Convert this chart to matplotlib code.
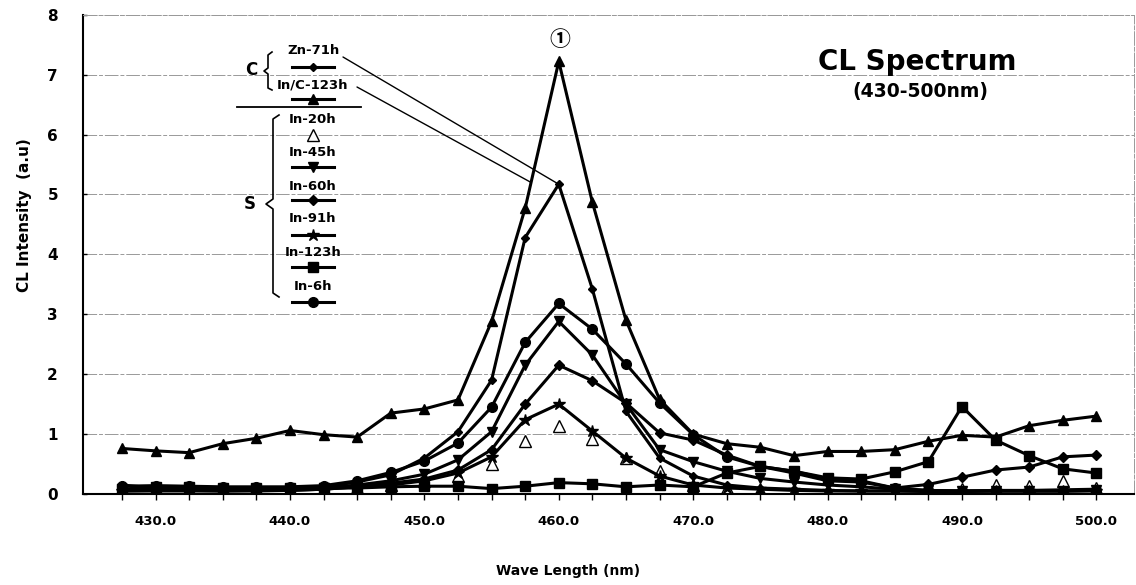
import numpy as np
import matplotlib
matplotlib.use("Agg")
import matplotlib.pyplot as plt

# wavelength (nm), one point every 2.5 nm
wave = [427.5, 430.0, 432.5, 435.0, 437.5, 440.0, 442.5, 445.0, 447.5, 450.0,
        452.5, 455.0, 457.5, 460.0, 462.5, 465.0, 467.5, 470.0, 472.5, 475.0,
        477.5, 480.0, 482.5, 485.0, 487.5, 490.0, 492.5, 495.0, 497.5, 500.0]

# C group
zn_71h = [0.15, 0.10, 0.12, 0.10, 0.10, 0.10, 0.12, 0.20, 0.32, 0.60,
          1.04, 1.90, 4.28, 5.17, 3.42, 1.38, 0.60, 0.30, 0.15, 0.10,
          0.08, 0.06, 0.05, 0.05, 0.05, 0.05, 0.06, 0.06, 0.07, 0.08]
in_c_123h = [0.76, 0.72, 0.69, 0.84, 0.93, 1.06, 0.99, 0.95, 1.35, 1.42,
             1.57, 2.88, 4.77, 7.22, 4.87, 2.90, 1.58, 1.00, 0.84, 0.78,
             0.64, 0.71, 0.71, 0.74, 0.88, 0.98, 0.95, 1.14, 1.23, 1.30]

# S group
in_20h = [0.05, 0.05, 0.05, 0.05, 0.05, 0.05, 0.06, 0.10, 0.15, 0.22,
          0.30, 0.50, 0.89, 1.13, 0.91, 0.60, 0.38, 0.15, 0.10, 0.07,
          0.05, 0.05, 0.05, 0.05, 0.06, 0.08, 0.15, 0.13, 0.22, 0.10]
in_45h = [0.08, 0.08, 0.10, 0.08, 0.08, 0.08, 0.10, 0.15, 0.22, 0.33,
          0.57, 1.04, 2.15, 2.88, 2.32, 1.50, 0.74, 0.54, 0.38, 0.26,
          0.20, 0.15, 0.12, 0.08, 0.06, 0.05, 0.05, 0.05, 0.05, 0.06]
in_60h = [0.05, 0.06, 0.06, 0.05, 0.06, 0.06, 0.08, 0.12, 0.18, 0.25,
          0.40, 0.74, 1.50, 2.15, 1.89, 1.52, 1.02, 0.90, 0.65, 0.46,
          0.38, 0.25, 0.22, 0.10, 0.16, 0.28, 0.40, 0.45, 0.62, 0.65]
in_91h = [0.05, 0.05, 0.05, 0.05, 0.05, 0.06, 0.08, 0.12, 0.15, 0.22,
          0.35, 0.62, 1.24, 1.50, 1.05, 0.60, 0.30, 0.15, 0.10, 0.08,
          0.06, 0.05, 0.05, 0.05, 0.04, 0.04, 0.05, 0.05, 0.05, 0.05]
in_123h = [0.08, 0.12, 0.12, 0.10, 0.10, 0.10, 0.10, 0.10, 0.12, 0.13,
           0.13, 0.09, 0.13, 0.19, 0.17, 0.12, 0.15, 0.12, 0.35, 0.46,
           0.38, 0.27, 0.25, 0.37, 0.54, 1.46, 0.90, 0.64, 0.42, 0.35]
in_6h = [0.13, 0.14, 0.13, 0.12, 0.12, 0.12, 0.14, 0.22, 0.36, 0.55,
         0.85, 1.45, 2.53, 3.18, 2.75, 2.17, 1.52, 0.99, 0.62, 0.46,
         0.35, 0.22, 0.20, 0.10, 0.06, 0.05, 0.05, 0.05, 0.05, 0.06]

W, H = 1136, 585
BOLD = "DejaVu Sans"
CJK = ["Noto Sans CJK JP", "DejaVu Sans"]


def fx(x):
    return x / W


def fy(y):
    return 1 - y / H


fig = plt.figure(figsize=(W / 100, H / 100), dpi=100)
ax = fig.add_axes([fx(83), fy(494), (1134 - 83) / W, (494 - 14.7) / H])

# series: (values, marker, size, filled, draw line)
series = {
    "Zn-71h": (zn_71h, "D", 4, True, True),
    "In/C-123h": (in_c_123h, "^", 7, True, True),
    "In-20h": (in_20h, "^", 8, False, False),
    "In-45h": (in_45h, "v", 7, True, True),
    "In-60h": (in_60h, "D", 5, True, True),
    "In-91h": (in_91h, "*", 9, True, True),
    "In-123h": (in_123h, "s", 7, True, True),
    "In-6h": (in_6h, "o", 7, True, True),
}

for name, (vals, mk, ms, filled, line) in series.items():
    # open triangles sit under the lines, so the low ones get hidden
    ax.plot(wave, vals, marker=mk, markersize=ms, color="black",
            linestyle="-" if line else "none", linewidth=2.2,
            markerfacecolor="black" if filled else "white",
            markeredgecolor="black", markeredgewidth=1.0, zorder=3 if line else 2)

ax.set_xlim(424.6, 502.8)
ax.set_ylim(0, 8)
ax.set_yticks(range(0, 9))
ax.set_xticks(wave)
ax.set_xticklabels([f"{w:.1f}" if w % 10 == 0 else "" for w in wave],
                   fontsize=9.5, fontweight="bold", family=BOLD)
ax.set_yticklabels([str(i) for i in range(0, 9)], fontsize=11,
                   fontweight="bold", family=BOLD)
ax.tick_params(axis="x", direction="out", length=4, width=1, pad=11)
ax.tick_params(axis="y", direction="in", length=3, width=1, pad=18)
ax.grid(axis="y", color="#999999", linewidth=0.7, linestyle=(0, (14, 2, 4, 2)))
ax.set_axisbelow(True)
for s in ["top", "right"]:
    ax.spines[s].set_color("#999999")
    ax.spines[s].set_linestyle((0, (14, 2, 4, 2)))
    ax.spines[s].set_linewidth(0.7)
for s in ["left", "bottom"]:
    ax.spines[s].set_linewidth(1.5)

fig.text(fx(25), fy(215), "CL Intensity  (a.u)", rotation=90, ha="center",
         va="center", fontsize=11, fontweight="bold", family=BOLD)
fig.text(fx(568), fy(571), "Wave Length (nm)", ha="center", va="center",
         fontsize=10, fontweight="bold", family=BOLD)

# title block
fig.text(fx(917), fy(62), "CL Spectrum", ha="center", va="center",
         fontsize=20, fontweight="bold", family=BOLD)
fig.text(fx(920), fy(92), "(430-500nm)", ha="center", va="center",
         fontsize=13.5, fontweight="bold", family=BOLD)
fig.text(fx(560), fy(40), "①", ha="center", va="center", fontsize=15,
         fontweight="bold", family=CJK)

# hand-drawn legend on the left
leg_x = 313
entries = [
    ("Zn-71h", 51, 67),
    ("In/C-123h", 85, 99),
    ("In-20h", 120, 135),
    ("In-45h", 153, 167),
    ("In-60h", 186, 200),
    ("In-91h", 219, 235),
    ("In-123h", 253, 267),
    ("In-6h", 287, 302),
]
for name, ty, sy in entries:
    vals, mk, ms, filled, line = series[name]
    fig.text(fx(leg_x), fy(ty), name, ha="center", va="center",
             fontsize=9.5, fontweight="bold", family=BOLD)
    if line:
        ax.plot([fx(292), fx(334)], [fy(sy), fy(sy)],
                transform=fig.transFigure, clip_on=False, color="black",
                linewidth=2.2, zorder=5)
    ax.plot([fx(leg_x)], [fy(sy)], transform=fig.transFigure, clip_on=False,
            marker=mk, markersize=ms, color="black",
            markerfacecolor="black" if filled else "white",
            markeredgecolor="black", markeredgewidth=1.0, zorder=6)

# separator between groups
ax.plot([fx(237), fx(361)], [fy(107), fy(107)], transform=fig.transFigure,
        clip_on=False, color="black", linewidth=1.3)

# braces
c_brace = [(272, 52), (268, 55), (268, 68), (264, 71), (268, 74), (268, 88), (272, 90)]
s_brace = [(279, 115), (273, 119), (273, 199), (266, 204), (273, 209), (273, 293), (279, 297)]
for br in (c_brace, s_brace):
    ax.plot([fx(p[0]) for p in br], [fy(p[1]) for p in br],
            transform=fig.transFigure, clip_on=False, color="black", linewidth=1.2)
fig.text(fx(251), fy(70), "C", ha="center", va="center", fontsize=12,
         fontweight="bold", family=BOLD)
fig.text(fx(250), fy(204), "S", ha="center", va="center", fontsize=12,
         fontweight="bold", family=BOLD)

# leader lines from the C labels to their curves
peak = int(np.argmax(zn_71h))
ax.annotate("", xy=(wave[peak], zn_71h[peak]), xytext=(343, H - 57),
            textcoords="figure pixels",
            arrowprops=dict(arrowstyle="-", lw=1.0, shrinkA=0, shrinkB=0))
x_on = np.interp(5.2, in_c_123h[11:14], wave[11:14])
ax.annotate("", xy=(x_on, 5.2), xytext=(357, H - 87),
            textcoords="figure pixels",
            arrowprops=dict(arrowstyle="-", lw=1.0, shrinkA=0, shrinkB=0))

fig.savefig("out.png", dpi=100)
